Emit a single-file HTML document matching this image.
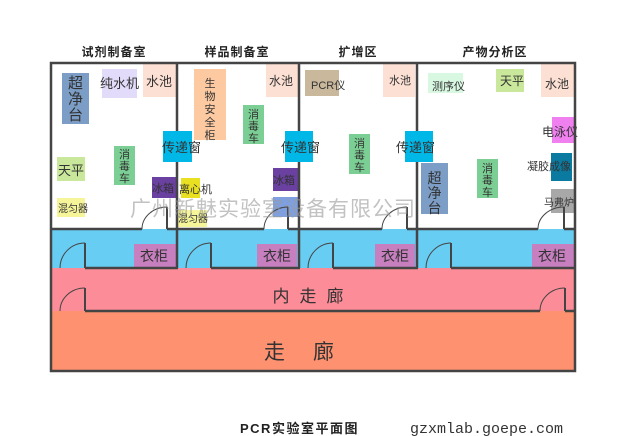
<!DOCTYPE html>
<html><head><meta charset="utf-8"><style>
html,body{margin:0;padding:0;background:#fff;}
svg{display:block;font-family:"Liberation Sans","Noto Sans CJK SC",sans-serif;}
</style></head><body>
<svg width="628" height="436" viewBox="0 0 628 436" xmlns="http://www.w3.org/2000/svg">
<g font-size="12" font-weight="bold" fill="#222" text-anchor="middle" letter-spacing="1">
<text x="114" y="56">试剂制备室</text>
<text x="237" y="56">样品制备室</text>
<text x="358" y="56">扩增区</text>
<text x="495" y="56">产物分析区</text>
</g>
<rect x="51" y="229" width="524" height="39" fill="#68cdf3"/>
<rect x="51" y="268" width="524" height="43" fill="#fc8c98"/>
<rect x="51" y="311" width="524" height="60" fill="#fd9170"/>
<g font-size="12" fill="#333">
<rect x="62" y="73" width="27" height="51" fill="#7b9dc6"/>
<text x="75.5" y="88" text-anchor="middle" font-size="15">超</text><text x="75.5" y="104" text-anchor="middle" font-size="15">净</text><text x="75.5" y="120" text-anchor="middle" font-size="15">台</text>
<rect x="102" y="69" width="35" height="29" fill="#e2dbfa"/><text x="100" y="88" font-size="13">纯水机</text>
<rect x="143" y="63" width="33" height="34" fill="#fde0d4"/><text x="146" y="86" font-size="13">水池</text>
<rect x="194" y="69" width="32" height="71" fill="#fcc9a1"/>
<g text-anchor="middle" font-size="11"><text x="210" y="87">生</text><text x="210" y="100">物</text><text x="210" y="113">安</text><text x="210" y="126">全</text><text x="210" y="139">柜</text></g>
<rect x="266" y="63" width="32" height="34" fill="#fde0d4"/><text x="269" y="85">水池</text>
<rect x="243" y="105" width="21" height="39" fill="#7ccf94"/>
<g text-anchor="middle" font-size="11"><text x="253.5" y="118">消</text><text x="253.5" y="130">毒</text><text x="253.5" y="142">车</text></g>
<rect x="57" y="157" width="28" height="24" fill="#c9e89b"/><text x="58" y="175" font-size="13">天平</text>
<rect x="114" y="146" width="21" height="39" fill="#7ccf94"/>
<g text-anchor="middle" font-size="11"><text x="124.5" y="158">消</text><text x="124.5" y="170">毒</text><text x="124.5" y="182">车</text></g>
<rect x="152" y="177" width="24" height="21" fill="#6a40a0"/><text x="152" y="192" font-size="11">冰箱</text>
<rect x="57" y="198" width="28" height="19" fill="#f6f59a"/><text x="58" y="212" font-size="10">混匀器</text>
<rect x="181" y="178" width="19" height="20" fill="#e8e020"/><text x="179" y="193" font-size="11">离心机</text>
<rect x="178" y="210" width="29" height="17" fill="#f6f59a"/><text x="178" y="222" font-size="10">混匀器</text>
<rect x="273" y="168" width="25" height="23" fill="#6a40a0"/><text x="273" y="184" font-size="11">冰箱</text>
<rect x="273" y="197" width="25" height="20" fill="#7fa0e0"/>
<rect x="305" y="70" width="34" height="26" fill="#c9b89b"/><text x="311" y="89" font-size="11">PCR仪</text>
<rect x="383" y="63" width="32" height="34" fill="#fde0d4"/><text x="389" y="84" font-size="11">水池</text>
<rect x="349" y="134" width="21" height="40" fill="#7ccf94"/>
<g text-anchor="middle" font-size="11"><text x="359.5" y="147">消</text><text x="359.5" y="159">毒</text><text x="359.5" y="171">车</text></g>
<rect x="428" y="73" width="35" height="20" fill="#d9f8e2"/><text x="432" y="90" font-size="11">测序仪</text>
<rect x="496" y="69" width="28" height="23" fill="#c9e89b"/><text x="500" y="85">天平</text>
<rect x="541" y="63" width="33" height="34" fill="#fde0d4"/><text x="545" y="88">水池</text>
<rect x="552" y="117" width="23" height="26" fill="#f080f0"/><text x="542" y="136">电泳仪</text>
<rect x="551" y="153" width="21" height="28" fill="#0b7aa0"/><text x="527" y="170" font-size="11">凝胶成像</text>
<rect x="421" y="163" width="27" height="51" fill="#7b9dc6"/>
<text x="434.5" y="183" text-anchor="middle" font-size="14">超</text><text x="434.5" y="198" text-anchor="middle" font-size="14">净</text><text x="434.5" y="213" text-anchor="middle" font-size="14">台</text>
<rect x="477" y="159" width="21" height="39" fill="#7ccf94"/>
<g text-anchor="middle" font-size="11"><text x="487.5" y="172">消</text><text x="487.5" y="184">毒</text><text x="487.5" y="196">车</text></g>
<rect x="551" y="189" width="23" height="24" fill="#a8a8a8"/><text x="544" y="206" font-size="10">马弗炉</text>
<rect x="134" y="244" width="42" height="23" fill="#c77fc0"/><text x="140" y="261" font-size="14">衣柜</text>
<rect x="257" y="244" width="40" height="23" fill="#c77fc0"/><text x="263" y="261" font-size="14">衣柜</text>
<rect x="375" y="244" width="40" height="23" fill="#c77fc0"/><text x="381" y="261" font-size="14">衣柜</text>
<rect x="532" y="244" width="42" height="23" fill="#c77fc0"/><text x="538" y="261" font-size="14">衣柜</text>
</g>
<g fill="none" stroke="#444" stroke-width="2.5">
<rect x="51" y="63" width="524" height="308"/>
<line x1="177" y1="63" x2="177" y2="268"/>
<line x1="299" y1="63" x2="299" y2="268"/>
<line x1="417" y1="63" x2="417" y2="268"/>
<path d="M51 229H142M167 229H264M288 229H382M407 229H538M564 229H575"/>
<path d="M167 229V207M288 229V207M407 229V207M564 229V207" stroke-width="2"/>
<path d="M85 268H178M211 268H300M333 268H418M451 268H575"/>
<path d="M85 268V243M211 268V243M333 268V243M451 268V243" stroke-width="2"/>
<path d="M85 311H540M565 311H575"/>
<path d="M85 311V288M565 311V288" stroke-width="2"/>
</g>
<g fill="none" stroke="#444" stroke-width="1">
<path d="M142 229A25 22 0 0 1 167 207"/>
<path d="M264 229A24 22 0 0 1 288 207"/>
<path d="M382 229A25 22 0 0 1 407 207"/>
<path d="M538 229A26 22 0 0 1 564 207"/>
<path d="M60 268A25 25 0 0 1 85 243"/>
<path d="M186 268A25 25 0 0 1 211 243"/>
<path d="M308 268A25 25 0 0 1 333 243"/>
<path d="M426 268A25 25 0 0 1 451 243"/>
<path d="M60 311A25 23 0 0 1 85 288"/>
<path d="M540 311A25 23 0 0 1 565 288"/>
</g>
<g font-size="13" fill="#333">
<rect x="163" y="131" width="29" height="31" fill="#00b8e8"/><text x="162" y="152">传递窗</text>
<rect x="285" y="131" width="28" height="31" fill="#00b8e8"/><text x="281" y="152">传递窗</text>
<rect x="405" y="131" width="28" height="31" fill="#00b8e8"/><text x="396" y="152">传递窗</text>
</g>
<text x="130" y="216" font-size="21" fill="#999" fill-opacity="0.6" letter-spacing="1">广州新魅实验室设备有限公司</text>
<text x="313" y="302" font-size="17" fill="#333" text-anchor="middle" letter-spacing="10">内走廊</text>
<text x="313" y="359" font-size="21" fill="#333" text-anchor="middle" letter-spacing="28">走廊</text>
<text x="240" y="433" font-size="13" font-weight="bold" fill="#222" letter-spacing="1.5">PCR实验室平面图</text>
<text x="410" y="433" font-size="15" fill="#333" font-family="Liberation Mono, monospace">gzxmlab.goepe.com</text>
</svg>
</body></html>
